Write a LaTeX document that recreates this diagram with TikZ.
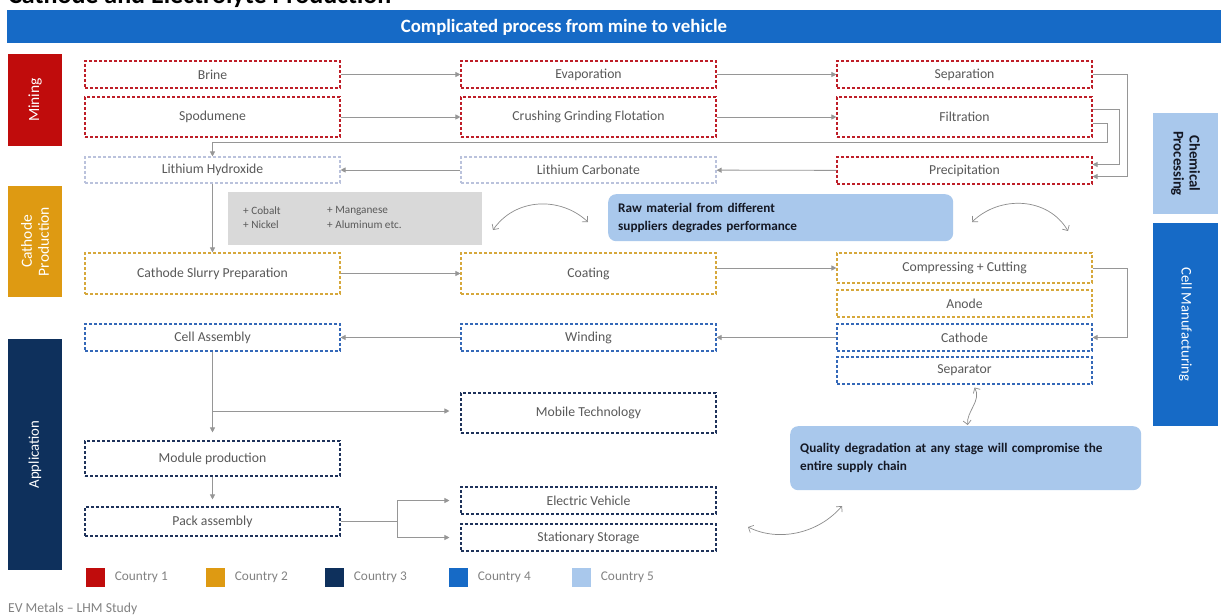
\documentclass[tikz,border=0pt]{standalone}
\usepackage{fontspec}
\setmainfont{Carlito}
\usetikzlibrary{arrows.meta,calc,positioning}

\definecolor{cRed}{RGB}{192,12,12}
\definecolor{cOrange}{RGB}{222,154,18}
\definecolor{cNavy}{RGB}{14,48,92}
\definecolor{cBlue}{RGB}{22,106,198}
\definecolor{cLight}{RGB}{169,200,236}
\definecolor{dashLight}{RGB}{186,194,220}
\definecolor{dashBlue}{RGB}{52,104,184}
\definecolor{dashOrange}{RGB}{214,168,60}
\definecolor{dashRed}{RGB}{190,30,40}
\definecolor{dashNavy}{RGB}{30,50,90}
\definecolor{txtGray}{RGB}{89,89,89}
\definecolor{lineGray}{RGB}{150,150,150}
\definecolor{curveGray}{RGB}{140,140,140}
\definecolor{alloyGray}{RGB}{217,217,217}
\definecolor{legendGray}{RGB}{130,130,130}
\definecolor{noteInk}{RGB}{20,24,36}

\tikzset{
  pbox/.style={draw=#1, dash pattern=on 3pt off 2pt, line width=1.1pt, fill=white,
    text=txtGray, font=\fontsize{13.7}{15}\selectfont, inner sep=0pt},
  conn/.style={draw=lineGray, line width=0.9pt, -{Triangle[length=5pt,width=5pt]}},
  swing/.style={draw=curveGray, line width=0.7pt,
    {Straight Barb[length=4pt,width=8pt]}-{Straight Barb[length=4pt,width=8pt]}},
  band/.style={fill=#1, draw=none, inner sep=0pt},
  bandtext/.style={font=\fontsize{15.5}{17}\selectfont, text=white, align=center},
  callout/.style={fill=cLight, rounded corners=8pt, inner xsep=10pt, inner ysep=0pt,
    align=left, text=noteInk, font=\bfseries\fontsize{13.2}{18}\selectfont, anchor=north west},
  swatch/.style={fill=#1, minimum width=19pt, minimum height=19pt, inner sep=0pt},
  legtext/.style={text=legendGray, font=\fontsize{13.3}{15}\selectfont, inner sep=0pt, anchor=west},
  alloytext/.style={text=txtGray, font=\fontsize{11.2}{13}\selectfont, inner sep=0pt, anchor=west}
}

\begin{document}
\begin{tikzpicture}[x=1pt, y=-1pt]
\useasboundingbox (0,0) rectangle (1221,615);
\fill[white] (0,0) rectangle (1221,615);

% page title, running off the top edge
\begin{scope}
  \clip (0,0) rectangle (1221,10);
  \node[anchor=base west, inner sep=0pt, font=\bfseries\fontsize{26}{28}\selectfont] (pagetitle) at (8,3.5) {Cathode and Electrolyte Production};
\end{scope}

% header bar
\node[band=cBlue, anchor=north west, minimum width=1214pt, minimum height=33pt] (hdr) at (7,10) {};
\node[text=white, font=\bfseries\fontsize{18.8}{20}\selectfont, inner sep=0pt] (hdrtext) at (564,27) {Complicated process from mine to vehicle};

% stage bands
\node[band=cRed, rotate=90, minimum width=92pt, minimum height=54pt, bandtext] (mining) at (35,100) {Mining};
\node[band=cOrange, rotate=90, minimum width=111pt, minimum height=54pt, bandtext, font=\fontsize{15.5}{17}\selectfont] (cathprod) at (35,241.5) {Cathode\\Production};
\node[band=cNavy, rotate=90, minimum width=231pt, minimum height=54pt, bandtext, font=\fontsize{14.8}{17}\selectfont] (appl) at (35,454.5) {Application};
\node[band=cLight, rotate=-90, minimum width=101pt, minimum height=65pt, bandtext, text=noteInk, font=\bfseries\fontsize{14.8}{16}\selectfont] (chem) at (1185.5,163.5) {Chemical\\Processing};
\node[band=cBlue, rotate=-90, minimum width=203pt, minimum height=65pt, bandtext, font=\fontsize{14.7}{16}\selectfont] (cellman) at (1185.5,324.5) {Cell Manufacturing};

% mining and chemical processing
\node[pbox=dashRed, minimum width=255pt, minimum height=27pt] (brine) at (212.5,74.5) {Brine};
\node[pbox=dashRed, minimum width=255pt, minimum height=40pt] (spod) at (212.5,117) {Spodumene};
\node[pbox=dashRed, minimum width=255pt, minimum height=27pt] (evap) at (588.5,74.5) {Evaporation};
\node[pbox=dashRed, minimum width=255pt, minimum height=40pt] (crush) at (588.5,117) {Crushing Grinding Flotation};
\node[pbox=dashRed, minimum width=255pt, minimum height=27pt] (sep) at (964.5,74.5) {Separation};
\node[pbox=dashRed, minimum width=255pt, minimum height=40pt] (filt) at (964.5,117) {Filtration};
\node[pbox=dashRed, minimum width=255pt, minimum height=27pt] (prec) at (964.5,170.5) {Precipitation};
\node[pbox=dashLight, minimum width=255pt, minimum height=26pt] (lic) at (588.5,170) {Lithium Carbonate};
\node[pbox=dashLight, minimum width=255pt, minimum height=26pt] (lioh) at (212.5,170) {Lithium Hydroxide};

% cathode production
\node[pbox=dashOrange, minimum width=255pt, minimum height=41pt] (slurry) at (212.5,273.5) {Cathode Slurry Preparation};
\node[pbox=dashOrange, minimum width=255pt, minimum height=41pt] (coat) at (588.5,273.5) {Coating};
\node[pbox=dashOrange, minimum width=255pt, minimum height=30pt] (comp) at (964.5,268) {Compressing + Cutting};
\node[pbox=dashOrange, minimum width=255pt, minimum height=27pt] (anode) at (964.5,303.5) {Anode};

% cell manufacturing
\node[pbox=dashBlue, minimum width=255pt, minimum height=27pt] (cath) at (964.5,337.5) {Cathode};
\node[pbox=dashBlue, minimum width=255pt, minimum height=27pt] (sepr) at (964.5,370.5) {Separator};
\node[pbox=dashBlue, minimum width=255pt, minimum height=27pt] (wind) at (588.5,337.5) {Winding};
\node[pbox=dashBlue, minimum width=255pt, minimum height=27pt] (cella) at (212.5,337.5) {Cell Assembly};

% application
\node[pbox=dashNavy, minimum width=255pt, minimum height=40pt] (mobile) at (588.5,413) {Mobile Technology};
\node[pbox=dashNavy, minimum width=255pt, minimum height=35pt] (module) at (212.5,458.5) {Module production};
\node[pbox=dashNavy, minimum width=255pt, minimum height=29pt] (pack) at (212.5,521.5) {Pack assembly};
\node[pbox=dashNavy, minimum width=255pt, minimum height=27pt] (ev) at (588.5,500.5) {Electric Vehicle};
\node[pbox=dashNavy, minimum width=255pt, minimum height=27pt] (ss) at (588.5,537.5) {Stationary Storage};

% added metals
\node[fill=alloyGray, anchor=north west, minimum width=254pt, minimum height=53pt, inner sep=0pt] (alloy) at (228,192) {};
\node[alloytext] (cobalt) at (243,211) {+ Cobalt};
\node[alloytext] (nickel) at (243,225) {+ Nickel};
\node[alloytext] (mangan) at (327,211) {+ Manganese};
\node[alloytext] (alum) at (327,225) {+ Aluminum etc.};

% notes
\node[callout, minimum width=345pt, minimum height=47pt, text width=325pt] (note1) at (608,194) {Raw material from different\\suppliers degrades performance};
\node[callout, minimum width=351pt, minimum height=64pt, text width=331pt] (note2) at (790,426) {Quality degradation at any stage will compromise the\\entire supply chain};

% flow connectors
\draw[conn] (brine) -- (evap);
\draw[conn] (spod) -- (crush);
\draw[conn] (evap) -- (sep);
\draw[conn] (crush) -- (filt);
\draw[conn] (sep.east) -- ++(35,0) |- ($(prec.east)+(0,6)$);
\draw[conn] ($(filt.east)+(0,-8)$) -- ++(27,0) |- ($(prec.east)+(0,-6)$);
\draw[conn] ($(filt.east)+(0,6)$) -- ++(15,0) |- (lioh.north |- 0,142) -- (lioh.north);
\draw[conn] (prec) -- (lic);
\draw[conn] (lic) -- (lioh);
\draw[conn] (lioh) -- (slurry);
\draw[conn] (slurry) -- (coat);
\draw[conn] (coat.east |- comp.west) -- (comp.west);
\draw[conn] (comp.east) -- ++(35,0) |- (cath.east);
\draw[conn] (cath) -- (wind);
\draw[conn] (wind) -- (cella);
\draw[conn, shorten >=8pt] (cella) -- (module);
\draw[conn, shorten >=11pt] (cella.south |- 0,411) -- (mobile.west |- 0,411);
\draw[conn, shorten >=7pt] (module) -- (pack);
\draw[draw=lineGray, line width=0.9pt] (pack.east) -- ++(57,0) coordinate (split);
\draw[conn, shorten >=11pt] (split) |- (ev.west);
\draw[conn, shorten >=11pt] (split) |- (ss.west);

% two-way influence arcs
\coordinate (arcA1) at (493,230);
\coordinate (arcA2) at (588,222);
\coordinate (arcB1) at (972,222);
\coordinate (arcB2) at (1068,231);
\coordinate (arcD1) at (748,527);
\coordinate (arcD2) at (842,506);
\draw[swing] (arcA1) .. controls (515,198) and (560,196) .. (arcA2);
\draw[swing] (arcB1) .. controls (1000,195) and (1048,197) .. (arcB2);
\draw[swing] ($(sepr.south)+(10,3)$) .. controls (982,400) and (966,412) .. ($(note2.north)+(2,-1)$);
\draw[swing] (arcD1) .. controls (778,542) and (818,534) .. (arcD2);

% legend
\node[swatch=cRed] (sw1) at (95,577.5) {};
\node[legtext, right=10pt of sw1] (lg1) {Country 1};
\node[swatch=cOrange] (sw2) at (215,577.5) {};
\node[legtext, right=10pt of sw2] (lg2) {Country 2};
\node[swatch=cNavy] (sw3) at (334,577.5) {};
\node[legtext, right=10pt of sw3] (lg3) {Country 3};
\node[swatch=cBlue] (sw4) at (458,577.5) {};
\node[legtext, right=10pt of sw4] (lg4) {Country 4};
\node[swatch=cLight] (sw5) at (581,577.5) {};
\node[legtext, right=10pt of sw5] (lg5) {Country 5};

% footer
\node[anchor=base west, inner sep=0pt, text=legendGray, font=\fontsize{13.7}{15}\selectfont] (foot) at (8,612) {EV Metals – LHM Study};
\end{tikzpicture}
\end{document}
